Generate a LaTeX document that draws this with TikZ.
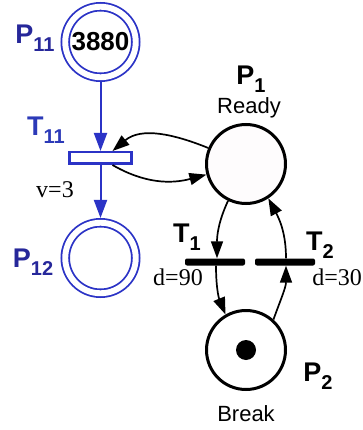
\documentclass[tikz,border=0pt]{standalone}
\usepackage{fontspec}
\setmainfont{Liberation Sans}
\newfontfamily\timesfont{Liberation Serif}
\usetikzlibrary{arrows.meta,positioning}
\definecolor{PlaceNavy}{HTML}{26279A}
\definecolor{TransBlue}{HTML}{2C3AB8}
\definecolor{ArcBlue}{HTML}{2B33C6}
\definecolor{ReadyFill}{HTML}{FEFCFD}
\newcommand{\sublabel}[2]{#1\raisebox{-8pt}{\fontsize{20}{20}\selectfont #2}}

\begin{document}
\begin{tikzpicture}[x=1pt,y=1pt,font=\fontsize{27}{27}\selectfont\bfseries,place/.style={circle,draw=black,line width=3pt,fill=white,minimum size=79pt,inner sep=0pt},dplace/.style={circle,draw=ArcBlue,line width=1.8pt,double=white,double distance=5.9pt,minimum size=70.5pt,inner sep=0pt,outer sep=4.8pt,text=black,font=\fontsize{26}{26}\selectfont\bfseries},bar/.style={fill=black,rounded corners=2pt,minimum width=60pt,minimum height=7pt,inner sep=0pt},tbox/.style={draw=ArcBlue,fill=white,line width=2.5pt,minimum width=62pt,minimum height=11.5pt,inner sep=0pt},token/.style={circle,fill=black,minimum size=20pt,inner sep=0pt},delay/.style={font=\timesfont\fontsize{24}{24}\selectfont},caption/.style={font=\fontsize{22}{22}\selectfont},arc/.style={-{Triangle[length=17pt,width=12pt]},line width=1.7pt},bluearc/.style={-{Triangle[length=18pt,width=13pt]},draw=ArcBlue,fill=ArcBlue,line width=2pt}]
\useasboundingbox[fill=white] (0,0) rectangle (363,-430);
\node[dplace] (P11) at (100.5,-42){3880};
\node[tbox] (T11) at (100.5,-158){};
\node[dplace] (P12) at (100.5,-258){};
\node[place,fill=ReadyFill] (P1) at (246,-164){};
\node[bar] (T1) at (215,-262){};
\node[bar] (T2) at (285,-262){};
\node[place] (P2) at (246,-350){};
\node[token] (tok) at (P2){};
\node[text=PlaceNavy] (lP11) at (35,-38){\sublabel{P}{11}};
\node[text=TransBlue] (lT11) at (46,-130){\sublabel{T}{11}};
\node[delay] (v) at (55,-190){v=3};
\node[text=PlaceNavy] (lP12) at (33,-262){\sublabel{P}{12}};
\node (lP1) at (251,-79){\sublabel{P}{1}};
\node[caption] (ready) at (249,-108){Ready};
\node (lT1) at (187,-237){\sublabel{T}{1}};
\node (lT2) at (320,-245){\sublabel{T}{2}};
\node[delay] (d1) at (178,-277){d=90};
\node[delay,anchor=east,inner xsep=1pt] (d2) at (363,-277){d=30};
\node (lP2) at (318,-376){\sublabel{P}{2}};
\node[caption] (brk) at (246,-414){Break};
\draw[bluearc] (P11) -- (T11);
\draw[bluearc] (T11) -- (P12);
\draw[arc] (P1.157) to[out=158,in=40] ([xshift=12pt]T11.north);
\draw[arc] ([xshift=12pt]T11.south) to[out=-30,in=195] (P1.195);
\draw[arc] (P1.244) to[out=245,in=90] ([xshift=2pt]T1.north);
\draw[arc] ([xshift=1pt]T1.south) to[out=-90,in=112] (P2.120);
\draw[arc] (P2.48) to[out=70,in=-90] ([xshift=1pt]T2.south);
\draw[arc] ([xshift=1pt]T2.north) to[out=90,in=-62] (P1.303);
\end{tikzpicture}
\end{document}
